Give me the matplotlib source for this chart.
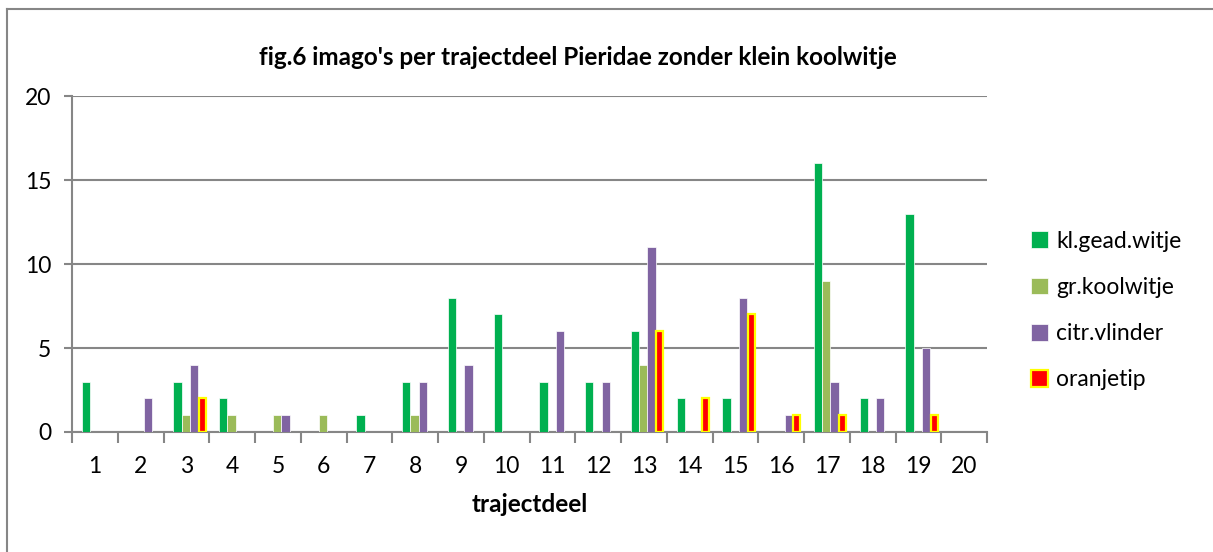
import numpy as np
import matplotlib
matplotlib.use("Agg")
import matplotlib.pyplot as plt
from matplotlib.lines import Line2D

plt.rcParams['font.family'] = ['Lato', 'DejaVu Sans']

trajectdeel = list(range(1, 21))
kl_gead_witje = [3, 0, 3, 2, 0, 0, 1, 3, 8, 7, 3, 3, 6, 2, 2, 0, 16, 2, 13, 0]
gr_koolwitje = [0, 0, 1, 1, 1, 1, 0, 1, 0, 0, 0, 0, 4, 0, 0, 0, 9, 0, 0, 0]
citr_vlinder = [0, 2, 4, 0, 1, 0, 0, 3, 4, 0, 6, 3, 11, 0, 8, 1, 3, 2, 5, 0]
oranjetip = [0, 0, 2, 0, 0, 0, 0, 0, 0, 0, 0, 0, 6, 2, 7, 1, 1, 0, 1, 0]

series = [
    ("kl.gead.witje", kl_gead_witje, "#00B050", "none"),
    ("gr.koolwitje", gr_koolwitje, "#9BBB59", "none"),
    ("citr.vlinder", citr_vlinder, "#8064A2", "none"),
    ("oranjetip", oranjetip, "#FF0000", "#FFFF00"),
]

fig = plt.figure(figsize=(12.13, 5.52), dpi=100)
ax = fig.add_axes([0.0594, 0.2174, 0.8137 - 0.0594, 0.826 - 0.2174])

x = np.array(trajectdeel, dtype=float)
w = 0.18
shift = 0.075
for k, (name, vals, col, edge) in enumerate(series):
    vals = np.array(vals, dtype=float)
    pos = x + (k - 1.5) * w + shift
    if edge == "none":
        ax.bar(pos, vals, width=w, color=col, edgecolor="white", linewidth=0.5,
               label=name, zorder=3)
    else:
        m = vals > 0
        ax.bar(pos[m], vals[m], width=w * 0.85, color=col, edgecolor=edge,
               linewidth=1.6, label=name, zorder=3)

ax.set_xlim(0.5, 20.5)
ax.set_ylim(0, 20)
ax.set_yticks([0, 5, 10, 15, 20])
ax.set_xticks(trajectdeel)
ax.set_xticks(np.arange(0.5, 21, 1), minor=True)
ax.tick_params(axis='x', which='major', length=0, pad=17, labelsize=16.5)
ax.tick_params(axis='x', which='minor', length=8, width=1.5, color='#868686')
ax.tick_params(axis='y', length=6, width=1.5, color='#868686', pad=9, labelsize=16.5)

ax.grid(axis='y', color='#868686', linewidth=1.5, zorder=0)
for s in ['top', 'right']:
    ax.spines[s].set_visible(False)
for s in ['left', 'bottom']:
    ax.spines[s].set_color('#868686')
    ax.spines[s].set_linewidth(1.5)

ax.set_xlabel("trajectdeel", fontsize=17.5, fontweight='bold', labelpad=12)
fig.text(0.476, 0.895, "fig.6 imago's per trajectdeel Pieridae zonder klein koolwitje",
         ha='center', va='center', fontsize=17.5, fontweight='bold')

leg = ax.legend(loc='center left', bbox_to_anchor=(0.833, 0.4375), bbox_transform=fig.transFigure,
                frameon=False, fontsize=16.5, handlelength=0.75, handleheight=0.75,
                handletextpad=0.35, labelspacing=1.1)

# chart frame (left and top edges visible)
fig.add_artist(Line2D([7 / 1213, 7 / 1213], [0, 1 - 9 / 552], transform=fig.transFigure,
                      color='#868686', linewidth=1.5))
fig.add_artist(Line2D([7 / 1213, 1], [1 - 9 / 552, 1 - 9 / 552], transform=fig.transFigure,
                      color='#868686', linewidth=1.5))

fig.savefig("out.png", dpi=100)
